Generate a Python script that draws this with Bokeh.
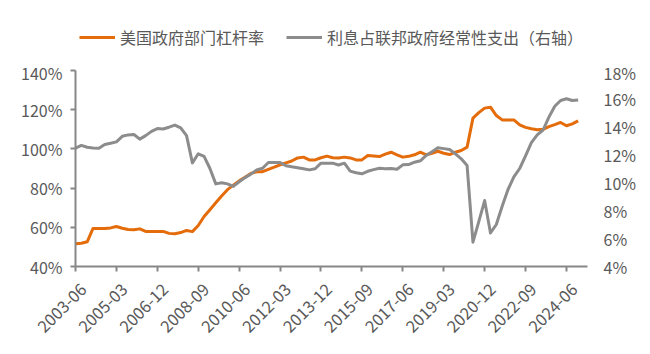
import math
from bokeh.plotting import figure
from bokeh.layouts import column
from bokeh.models import (Range1d, LinearAxis, FixedTicker, PrintfTickFormatter,
                          Legend, LegendItem, ColumnDataSource)
from bokeh.embed import file_html
from bokeh.resources import INLINE

# ---- data -------------------------------------------------------------
quarters = []
for yr in range(2003, 2025):
    for m in ("03", "06", "09", "12"):
        if yr == 2003 and m == "03":
            continue
        quarters.append(f"{yr}-{m}")

leverage = [  # 美国政府部门杠杆率 (%), left axis
    51.6, 51.9, 52.6, 59.4, 59.4, 59.4, 59.7, 60.4, 59.5, 58.9,
    58.7, 59.2, 57.9, 57.9, 57.9, 57.9, 56.9, 56.7, 57.3, 58.4,
    57.8, 60.9, 65.5, 69.0, 72.5, 76.0, 79.2, 81.5, 83.7, 85.5,
    87.5, 88.3, 88.4, 89.6, 90.7, 91.9, 92.9, 93.8, 95.4, 95.8,
    94.4, 94.4, 95.5, 96.3, 95.5, 95.4, 95.8, 95.4, 94.4, 94.4,
    96.6, 96.4, 96.1, 97.3, 98.3, 97.0, 95.8, 96.2, 97.0, 98.3,
    97.0, 97.8, 98.8, 97.8, 97.1, 98.3, 99.2, 100.9, 115.7, 118.5,
    120.8, 121.3, 117.0, 114.8, 114.8, 114.8, 112.3, 111.0, 110.3, 109.8,
    110.0, 111.4, 112.4, 113.5, 111.8, 112.8, 114.3,
]

interest_share = [  # 利息占联邦政府经常性支出 (%), right axis
    12.45, 12.65, 12.52, 12.47, 12.45, 12.72, 12.80, 12.90, 13.30, 13.40,
    13.43, 13.10, 13.35, 13.65, 13.85, 13.82, 13.95, 14.10, 13.90, 13.35,
    11.40, 12.05, 11.86, 11.00, 9.90, 9.98, 9.90, 9.72, 10.05, 10.35,
    10.60, 10.90, 11.02, 11.43, 11.43, 11.43, 11.20, 11.12, 11.05, 10.98,
    10.90, 10.98, 11.38, 11.38, 11.38, 11.25, 11.38, 10.81, 10.70, 10.62,
    10.80, 10.92, 11.02, 10.98, 11.00, 10.95, 11.26, 11.28, 11.45, 11.55,
    11.93, 12.20, 12.48, 12.42, 12.36, 12.05, 11.69, 11.21, 5.74, 7.20,
    8.71, 6.40, 7.00, 8.30, 9.50, 10.40, 11.00, 11.90, 12.85, 13.40,
    13.75, 14.67, 15.45, 15.86, 15.98, 15.86, 15.90,
]

left_ticks = [40, 60, 80, 100, 120, 140]
right_ticks = [4, 6, 8, 10, 12, 14, 16, 18]
label_step = 7

series_names = ["美国政府部门杠杆率", "利息占联邦政府经常性支出（右轴）"]

# ---- styles -----------------------------------------------------------
FONT = "Noto Sans CJK SC"
TXT = "#595959"
AX = "#878787"
ORANGE = "#E46C0A"
GREY = "#8C8C8C"
X_END = 87.6        # x range end (quarters)
LABEL_SHIFT = 1.37  # rotated labels sit slightly right of their tick

# ---- main chart -------------------------------------------------------
idx = list(range(len(quarters)))
tick_idx = idx[::label_step]
src = ColumnDataSource(dict(x=idx, lev=leverage, intr=interest_share))

p = figure(width=650, height=294, output_backend="svg", toolbar_location=None,
           x_range=Range1d(0, X_END), y_range=Range1d(left_ticks[0], left_ticks[-1]),
           min_border_left=75, min_border_right=63, min_border_top=10,
           min_border_bottom=88, outline_line_color=None, x_axis_location=None,
           y_axis_location=None)
p.extra_y_ranges = {"right": Range1d(right_ticks[0], right_ticks[-1])}
p.extra_x_ranges = {"lab": Range1d(-LABEL_SHIFT, X_END - LABEL_SHIFT)}
p.xgrid.visible = False
p.ygrid.visible = False

p.line("x", "lev", source=src, color=ORANGE, line_width=3, line_join="round")
p.line("x", "intr", source=src, color=GREY, line_width=3, line_join="round",
       y_range_name="right")

# bottom axis: line + tick marks
xb = LinearAxis(ticker=FixedTicker(ticks=tick_idx),
                major_label_overrides={i: "" for i in tick_idx})
# bottom labels (rotated), on a range offset so they sit like the original
xl = LinearAxis(ticker=FixedTicker(ticks=tick_idx), x_range_name="lab",
                major_label_overrides={i: quarters[i] for i in tick_idx})
xl.major_label_orientation = math.pi / 4
yl = LinearAxis(ticker=FixedTicker(ticks=left_ticks),
                formatter=PrintfTickFormatter(format="%d%%"))
yr = LinearAxis(ticker=FixedTicker(ticks=right_ticks), y_range_name="right",
                formatter=PrintfTickFormatter(format="%d%%"))

for ax in (xb, xl, yl, yr):
    ax.axis_line_color = AX
    ax.axis_line_width = 2
    ax.major_tick_line_color = AX
    ax.major_tick_line_width = 2
    ax.major_tick_in = 0
    ax.major_tick_out = 5
    ax.minor_tick_line_color = None
    ax.major_label_text_font = FONT
    ax.major_label_text_font_size = "16px"
    ax.major_label_text_color = TXT
xb.major_label_text_font_size = "1px"
xb.major_label_standoff = 0
xl.axis_line_color = None
xl.major_tick_line_color = None
xl.major_tick_out = 0
xl.major_label_text_font_size = "16.5px"
xl.major_label_standoff = 15
yl.major_label_standoff = 8
yr.axis_line_color = None
yr.major_tick_line_color = None
yr.major_tick_out = 0
yr.major_label_standoff = 16

p.add_layout(xb, "below")
p.add_layout(xl, "below")
p.add_layout(yl, "left")
p.add_layout(yr, "right")

# ---- legend strip (its frame is aligned with the chart frame) --------
lg = figure(width=650, height=60, output_backend="svg", toolbar_location=None,
            x_range=Range1d(0, 1), y_range=Range1d(0, 1), min_border=0,
            min_border_top=14, outline_line_color=None,
            x_axis_location=None, y_axis_location=None)
lg.grid.visible = False
# off-range key renderers, only used for the legend swatches
k1 = lg.line(x=[5, 6], y=[5, 6], color=ORANGE, line_width=3)
k2 = lg.line(x=[5, 6], y=[5, 6], color=GREY, line_width=3)
legend = Legend(items=[LegendItem(label=series_names[0], renderers=[k1]),
                       LegendItem(label=series_names[1], renderers=[k2])],
                orientation="horizontal", location="center",
                glyph_width=36, glyph_height=20, label_standoff=5, spacing=22,
                padding=0, margin=0, border_line_color=None,
                background_fill_alpha=0,
                label_text_font=FONT, label_text_font_size="16px",
                label_text_color=TXT)
lg.add_layout(legend, "center")

layout = column(lg, p, spacing=0)
open("out.html", "w").write(file_html(layout, INLINE))
